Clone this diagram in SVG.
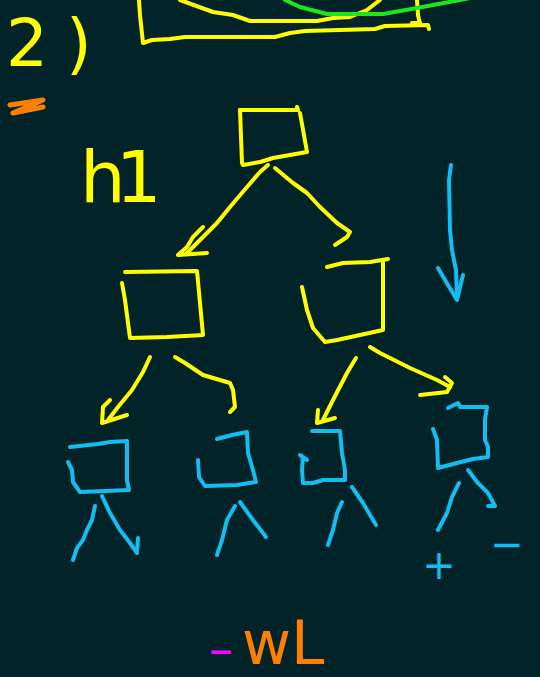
<svg xmlns="http://www.w3.org/2000/svg" width="540" height="677" viewBox="0 0 540 677">
<style>
.s{fill:none;stroke-width:4;stroke-linecap:round;stroke-linejoin:round}
.y{stroke:#ffff00}
.b{stroke:#12bdf2}
.g{stroke:#1ee61e}
.o{stroke:#ff8000}
.t{font-family:"DejaVu Sans","Liberation Sans",sans-serif}
</style>
<rect width="540" height="677" fill="#022327"/>
<g id="top-figure">
<polyline class="s y" points="139,0 140,15 143,43 152,40 170,39 185,37 275,37 290,33 305,31 375,29 385,26 428,25 429,29"/>
<polyline class="s y" points="417,0 418,15 420,24"/>
<polyline class="s y" points="412,23 420,23"/>
<polyline class="s y" points="180,0 213,12 233,15 250,21 317,21 333,18 350,17 367,10 380,0"/>
<polyline class="s g" points="285,0 300,7 327,14 383,14 417,8 433,5 460,0 475,-3"/>
</g>
<g id="label-2">
<text class="t" x="6" y="66" font-size="66" fill="#ffff00" letter-spacing="18">2)</text>
</g>
<g id="scribble">
<polyline fill="none" stroke="#ff8000" stroke-width="5" stroke-linecap="round" stroke-linejoin="round" points="10,105 43,100 13,113 43,107"/>
</g>
<g id="label-h1">
<text class="t" x="80" y="202" font-size="72" fill="#ffff00" letter-spacing="-10">h1</text>
</g>
<g id="root">
<polyline class="s y" points="240,110 298,110 297,107"/>
<polyline class="s y" points="300,113 307,152 273,158 260,162 243,165 242,163 240,110"/>
</g>
<g id="mid-left">
<polyline class="s y" points="125,272 197,271 203,335 167,337 130,338 125,300 122,283"/>
</g>
<g id="mid-right">
<polyline class="s y" points="327,267 343,263 370,262 388,259"/>
<polyline class="s y" points="383,262 383,293 383,330 360,335 337,340 325,342 313,328 307,310 302,287"/>
</g>
<g id="leaf-1">
<polyline class="s b" points="70,447 98,444 110,442 127,441 127,480 129,490 80,492 73,482 72,470 68,462"/>
</g>
<g id="leaf-2">
<polyline class="s b" points="217,439 232,435 247,432 248,453 253,470 256,482 237,485 205,486 199,477 198,460"/>
</g>
<g id="leaf-3">
<polyline class="s b" points="312,431 340,431 342,453 345,470 345,480 323,480 313,483 303,483 302,470 303,457 300,455 307,460"/>
</g>
<g id="leaf-4">
<polyline class="s b" points="448,408 458,403 460,407 487,407 485,420 485,440 488,447 488,457 473,459 457,463 438,468 437,440 433,429"/>
</g>
<g id="connectors">
<polyline class="s y" points="268,165 260,172 247,187 230,207 217,223 187,253"/>
<polyline class="s y" points="203,227 193,237 187,247 178,255 207,253"/>
<polyline class="s y" points="275,168 293,183 307,193 320,207 337,223 350,232 347,237 335,245"/>
<polyline class="s y" points="150,357 143,372 132,390 118,407 108,420"/>
<polyline class="s y" points="110,400 103,407 102,423 127,415"/>
<polyline class="s y" points="175,357 185,363 203,375 230,383 233,390 235,407 230,412"/>
<polyline class="s y" points="356,358 347,373 333,400 323,420"/>
<polyline class="s y" points="318,410 317,423 335,418"/>
<polyline class="s y" points="370,347 380,353 410,368 437,380 450,387"/>
<polyline class="s y" points="445,377 452,383 447,392 420,395"/>
<polyline class="s b" points="451,165 449,180 450,230 452,250 456,270 457,297"/>
<polyline class="s b" points="438,268 448,285 457,300 463,275"/>
<polyline class="s b" points="95,506 92,520 87,530 83,540 77,548 73,560"/>
<polyline class="s b" points="102,496 110,513 120,530 130,543 137,553 138,538"/>
<polyline class="s b" points="235,506 227,520 222,540 217,555"/>
<polyline class="s b" points="240,502 253,520 266,537"/>
<polyline class="s b" points="342,502 337,513 333,530 328,545"/>
<polyline class="s b" points="352,487 363,503 376,525"/>
<polyline class="s b" points="459,483 452,497 447,513 438,530"/>
<polyline class="s b" points="468,470 477,482 488,493 495,506 488,506"/>
</g>
<g id="signs">
<text class="t" x="439" y="579" font-size="40" fill="#12bdf2" text-anchor="middle">+</text>
<text class="t" x="507" y="558" font-size="40" fill="#12bdf2" text-anchor="middle">−</text>
</g>
<g id="label-wl">
<text class="t" x="221" y="666" font-size="48" fill="#ff00ff" text-anchor="middle">–</text>
<text class="t" x="242" y="664" font-size="60" fill="#ff8000">wL</text>
</g>
</svg>
